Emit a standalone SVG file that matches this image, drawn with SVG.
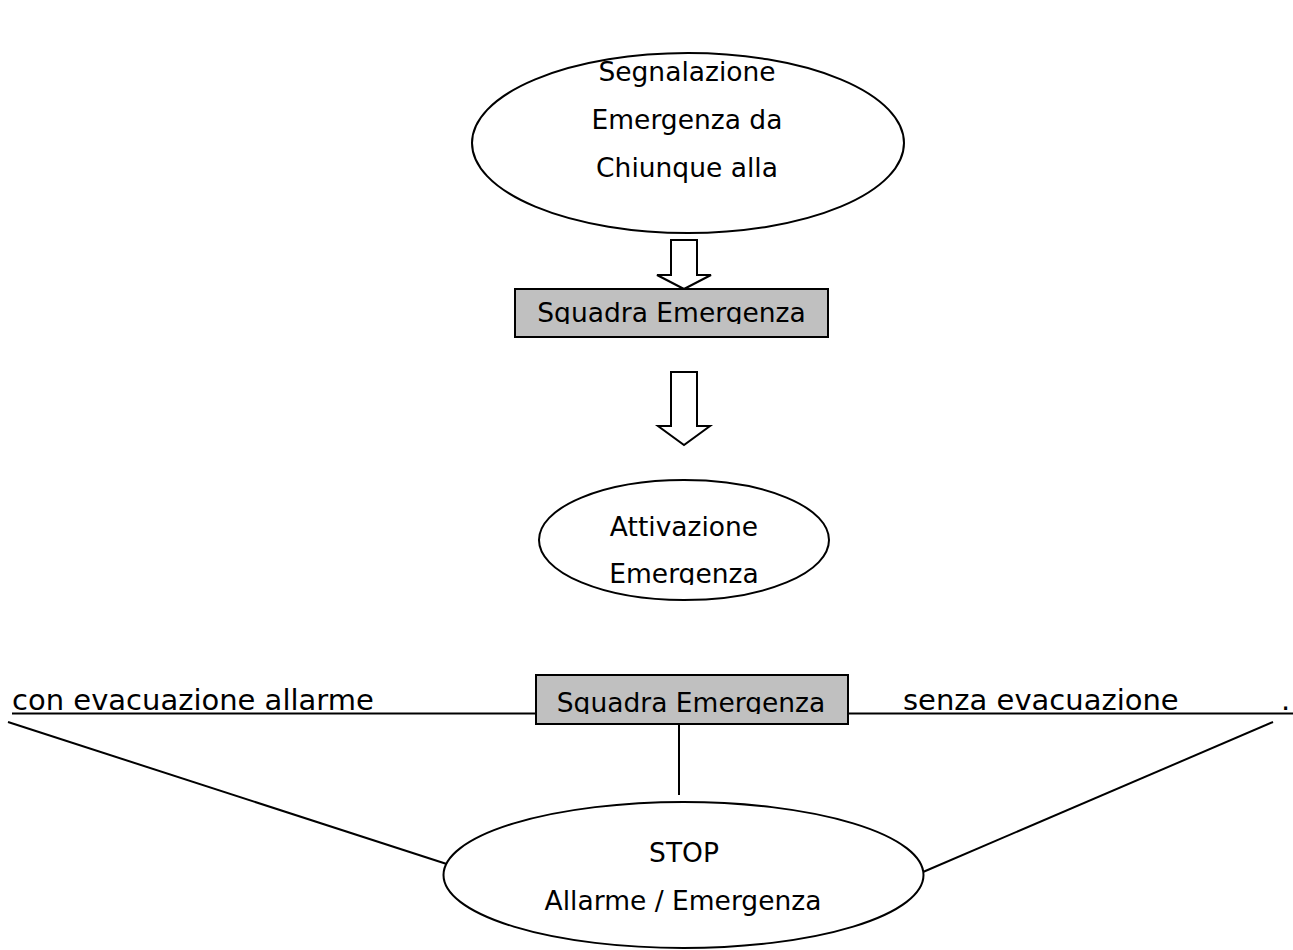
<svg xmlns="http://www.w3.org/2000/svg" width="1293" height="950" viewBox="0 0 1293 950">
<style>
.s{fill:none;stroke:#000;stroke-width:2}
.e{fill:#fff;stroke:#000;stroke-width:2}
.b{fill:#c0c0c0;stroke:#000;stroke-width:2}
.t{font-family:"DejaVu Sans",Verdana,sans-serif;font-size:26.5px;fill:#000}
.u{font-size:29px}
.c{text-anchor:middle}
</style>
<defs>
<clipPath id="c1"><rect x="516" y="290" width="311" height="34"/></clipPath>
<clipPath id="c2"><rect x="537" y="676" width="310" height="38"/></clipPath>
<clipPath id="c3"><rect x="540" y="480" width="288" height="105"/></clipPath>
</defs>
<rect width="1293" height="950" fill="#fff"/>
<g id="connectors">
<path class="e" d="M671 240 H697 V275 H711 L684 289 L657 275 H671 Z"/>
<path class="e" d="M671 372 H697 V426 H710 L684 445 L658 426 H671 Z"/>
<line class="s" x1="12" y1="713.5" x2="536" y2="713.5"/>
<line class="s" x1="848" y1="713.5" x2="1293" y2="713.5"/>
<line class="s" x1="679" y1="724" x2="679" y2="795"/>
<line class="s" x1="8" y1="722" x2="456" y2="867"/>
<line class="s" x1="1273" y1="722" x2="923" y2="872"/>
</g>
<g id="n1">
<ellipse class="e" cx="688" cy="143" rx="216" ry="90"/>
<text class="t c" x="687" y="81">Segnalazione</text>
<text class="t c" x="687" y="129">Emergenza da</text>
<text class="t c" x="687" y="177">Chiunque alla</text>
</g>
<g id="n2">
<rect class="b" x="515" y="289" width="313" height="48"/>
<text class="t c" x="671.5" y="322" clip-path="url(#c1)">Squadra Emergenza</text>
</g>
<g id="n3">
<ellipse class="e" cx="684" cy="540" rx="145" ry="60"/>
<text class="t c" x="684" y="536">Attivazione</text>
<text class="t c" x="684" y="583" clip-path="url(#c3)">Emergenza</text>
</g>
<g id="n4">
<rect class="b" x="536" y="675" width="312" height="49"/>
<text class="t c" x="691" y="712" clip-path="url(#c2)">Squadra Emergenza</text>
</g>
<g id="l1">
<text class="t u" x="12" y="710">con evacuazione allarme</text>
</g>
<g id="l2">
<text class="t u" x="903" y="710">senza evacuazione</text>
<text class="t u" x="1281" y="710">.</text>
</g>
<g id="n5">
<ellipse class="e" cx="683.5" cy="875" rx="240" ry="73"/>
<text class="t c" x="684" y="862">STOP</text>
<text class="t c" x="683" y="910">Allarme / Emergenza</text>
</g>
</svg>
